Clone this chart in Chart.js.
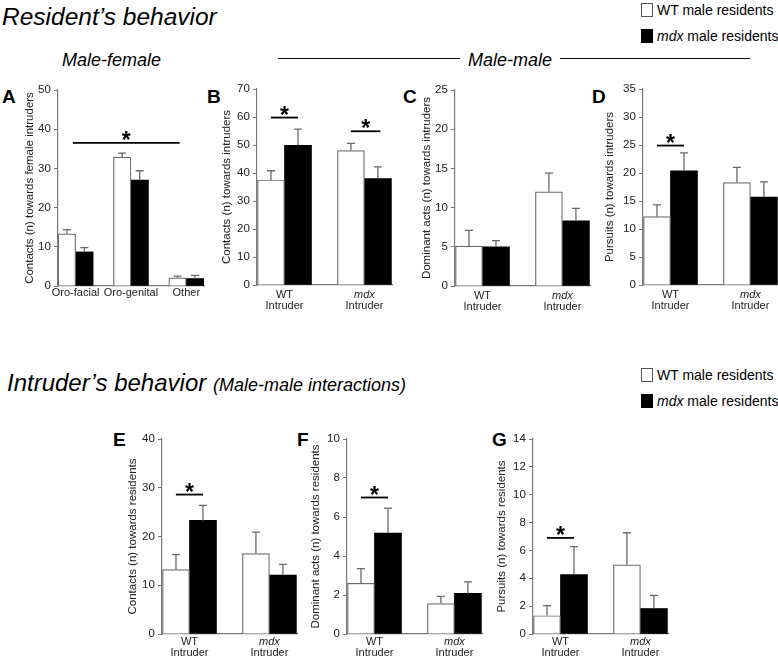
<!DOCTYPE html>
<html>
<head>
<meta charset="utf-8">
<script src="https://cdn.jsdelivr.net/npm/chart.js@4.4.0/dist/chart.umd.min.js"></script>
<style>
  body { margin: 0; background: #fff; overflow: hidden; font-family: "Liberation Sans", Arial, sans-serif; }
  #fig { position: relative; width: 778px; height: 667px; background: #fff; }
  .t { position: absolute; white-space: nowrap; color: #000; line-height: 1; }
  .it { font-style: italic; }
  .letter { position: absolute; font-weight: bold; font-size: 19px; line-height: 1; }
  .box { position: absolute; width: 10px; height: 12px; border: 1px solid #555; background: #fff; }
  .box.dark { background: #000; border-color: #000; }
  .rule { position: absolute; height: 0; border-top: 1px solid #000; }
  canvas { position: absolute; }
</style>
</head>
<body>
<div id="fig">
  <div class="t it" style="left:2px;top:5px;font-size:24.5px">Resident’s behavior</div>
  <div class="box" style="left:641px;top:3px"></div>
  <div class="t" style="left:657px;top:3px;font-size:14px">WT male residents</div>
  <div class="box dark" style="left:641px;top:29px"></div>
  <div class="t" style="left:657px;top:29px;font-size:14px"><i>mdx</i> male residents</div>
  <div class="t it" style="left:62px;top:51px;font-size:18px">Male-female</div>
  <div class="rule" style="left:278px;top:58px;width:182px"></div>
  <div class="t it" style="left:468px;top:51px;font-size:18px">Male-male</div>
  <div class="rule" style="left:560px;top:58px;width:190px"></div>

  <div class="t it" style="left:7px;top:371px;font-size:24px">Intruder’s behavior <span style="font-size:18px">(Male-male interactions)</span></div>
  <div class="box" style="left:641px;top:368px"></div>
  <div class="t" style="left:657px;top:368px;font-size:14px">WT male residents</div>
  <div class="box dark" style="left:641px;top:394px"></div>
  <div class="t" style="left:657px;top:394px;font-size:14px"><i>mdx</i> male residents</div>

  <div class="letter" style="left:2px;top:87px">A</div>
  <div class="letter" style="left:207px;top:87px">B</div>
  <div class="letter" style="left:403px;top:87px">C</div>
  <div class="letter" style="left:592px;top:87px">D</div>
  <div class="letter" style="left:113px;top:430px">E</div>
  <div class="letter" style="left:297px;top:430px">F</div>
  <div class="letter" style="left:492px;top:430px">G</div>
</div>
<script>
// ---- data ----
const catA = ['Oro-facial', 'Oro-genital', 'Other'];
const intruderLabels = [['WT', 'Intruder'], ['mdx', 'Intruder']];

// A: contacts towards female intruders
const wtA = [13.3, 32.9, 2.1];
const wtErrA = [1.1, 1.0, 0.4];
const mdxA = [8.7, 27.0, 1.9];
const mdxErrA = [1.1, 2.4, 0.8];

// B: contacts towards intruders
const wtB = [37.5, 48.0];
const wtErrB = [3.3, 2.6];
const mdxB = [49.9, 38.0];
const mdxErrB = [5.8, 4.2];

// C: dominant acts towards intruders
const wtC = [5.1, 12.0];
const wtErrC = [2.0, 2.4];
const mdxC = [5.0, 8.3];
const mdxErrC = [0.8, 1.6];

// D: pursuits towards intruders
const wtD = [12.2, 18.3];
const wtErrD = [2.1, 2.7];
const mdxD = [20.4, 15.7];
const mdxErrD = [3.2, 2.7];

// E: contacts towards residents
const wtE = [13.2, 16.5];
const wtErrE = [3.1, 4.4];
const mdxE = [23.3, 12.1];
const mdxErrE = [3.1, 2.2];

// F: dominant acts towards residents
const wtF = [2.6, 1.56];
const wtErrF = [0.75, 0.37];
const mdxF = [5.18, 2.08];
const mdxErrF = [1.28, 0.59];

// G: pursuits towards residents
const wtG = [1.31, 4.96];
const wtErrG = [0.73, 2.31];
const mdxG = [4.27, 1.83];
const mdxErrG = [2.0, 0.95];

// significance bars (data units)
const sigA = [{ x1: 0.95, x2: 2.88, y: 36.5 }];
const sigB = [{ x1: 0.83, x2: 1.17, y: 59.8 }, { x1: 1.83, x2: 2.2, y: 54.9 }];
const sigD = [{ x1: 0.83, x2: 1.17, y: 24.9 }];
const sigE = [{ x1: 0.83, x2: 1.17, y: 28.6 }];
const sigF = [{ x1: 0.83, x2: 1.17, y: 7.0 }];
const sigG = [{ x1: 0.83, x2: 1.17, y: 6.9 }];

const FONT = '"Liberation Sans", Arial, sans-serif';
const AXIS = '#7a7a7a';

const errorBars = {
  id: 'errorBars',
  afterDatasetsDraw(chart) {
    const { ctx, scales: { y } } = chart;
    ctx.save();
    ctx.strokeStyle = '#6a6a6a';
    ctx.lineWidth = 1.3;
    chart.data.datasets.forEach((ds, i) => {
      chart.getDatasetMeta(i).data.forEach((bar, j) => {
        const v = ds.data[j].y;
        const top = y.getPixelForValue(v + ds.errors[j]);
        ctx.beginPath();
        ctx.moveTo(bar.x, bar.y);
        ctx.lineTo(bar.x, top);
        ctx.moveTo(bar.x - 4, top);
        ctx.lineTo(bar.x + 4, top);
        ctx.stroke();
      });
    });
    ctx.restore();
  }
};

const sigMarks = {
  id: 'sigMarks',
  afterDraw(chart, args, opts) {
    const { ctx, scales: { x, y } } = chart;
    ctx.save();
    (opts.marks || []).forEach(m => {
      const a = x.getPixelForValue(m.x1), b = x.getPixelForValue(m.x2);
      const py = y.getPixelForValue(m.y);
      ctx.strokeStyle = '#000';
      ctx.lineWidth = 1.8;
      ctx.beginPath();
      ctx.moveTo(a, py);
      ctx.lineTo(b, py);
      ctx.stroke();
      ctx.fillStyle = '#000';
      ctx.font = 'bold 23px ' + FONT;
      ctx.textAlign = 'center';
      ctx.textBaseline = 'alphabetic';
      ctx.fillText('*', (a + b) / 2, py + 5);
    });
    ctx.restore();
  }
};

const groupLabels = {
  id: 'groupLabels',
  afterDraw(chart, args, opts) {
    const { ctx, chartArea, scales: { x } } = chart;
    ctx.save();
    ctx.fillStyle = '#222';
    ctx.textAlign = 'center';
    ctx.textBaseline = 'middle';
    opts.labels.forEach((lab, i) => {
      const px = x.getPixelForValue(i + 1);
      const lines = Array.isArray(lab) ? lab : [lab];
      lines.forEach((ln, k) => {
        ctx.font = (ln === 'mdx' ? 'italic ' : '') + '11px ' + FONT;
        ctx.fillText(ln, px, chartArea.bottom + opts.first + k * 11);
      });
    });
    ctx.restore();
  }
};

function panel(p) {
  const padTop = 12, padBottom = 28, padRight = 8;
  const left = p.titleX - 6.9;
  const yW = p.axisX - left;
  const cv = document.createElement('canvas');
  const w = Math.round(p.axisEnd + padRight - left);
  const h = Math.round(p.zeroY - p.topY + padTop + padBottom);
  cv.width = w; cv.height = h;
  cv.style.left = left + 'px';
  cv.style.top = (p.topY - padTop) + 'px';
  document.getElementById('fig').appendChild(cv);

  const toXY = arr => arr.map((v, i) => ({ x: i + 1, y: v }));
  new Chart(cv.getContext('2d'), {
    type: 'bar',
    data: {
      datasets: [
        { label: 'WT male residents', data: toXY(p.wt), errors: p.wtErr,
          backgroundColor: '#fff', borderColor: '#6a6a6a', borderWidth: 1.2, barThickness: p.bw },
        { label: 'mdx male residents', data: toXY(p.mdx), errors: p.mdxErr,
          backgroundColor: '#000', borderColor: '#000', borderWidth: 0, barThickness: p.bw }
      ]
    },
    options: {
      responsive: false,
      animation: false,
      devicePixelRatio: 1,
      layout: { padding: { left: 0, top: padTop, right: padRight, bottom: padBottom } },
      plugins: {
        legend: { display: false },
        tooltip: { enabled: false },
        sigMarks: { marks: p.sig },
        groupLabels: { labels: p.labels, first: p.labelGap }
      },
      scales: {
        x: {
          type: 'linear', offset: false, min: p.xmin, max: p.xmax,
          grid: { display: false },
          border: { display: true, color: AXIS, width: 1.2 },
          ticks: { display: false }
        },
        y: {
          min: 0, max: p.ymax,
          ticks: { stepSize: p.step, padding: 3, color: '#222', font: { family: FONT, size: 11.5 } },
          grid: { drawOnChartArea: false, drawTicks: true, tickLength: 4, color: AXIS },
          border: { display: true, color: AXIS, width: 1.2 },
          title: { display: true, text: p.title, color: '#222', padding: 0,
                   font: { family: FONT, size: 11.5, lineHeight: 1.2 } },
          afterFit: s => { s.width = yW; }
        }
      }
    },
    plugins: [errorBars, sigMarks, groupLabels]
  });
}

panel({ titleX: 30, axisX: 58, axisEnd: 204.5, topY: 90, zeroY: 294, ymax: 50, step: 10,
  xmin: 0.68, xmax: 3.32, bw: 17.5, wt: wtA, wtErr: wtErrA, mdx: mdxA, mdxErr: mdxErrA,
  sig: sigA, labels: catA, labelGap: 7, title: 'Contacts (n) towards female intruders' });
panel({ titleX: 227, axisX: 257, axisEnd: 392, topY: 89, zeroY: 293, ymax: 70, step: 10,
  xmin: 0.655, xmax: 2.345, bw: 27, wt: wtB, wtErr: wtErrB, mdx: mdxB, mdxErr: mdxErrB,
  sig: sigB, labels: intruderLabels, labelGap: 10, title: 'Contacts (n) towards intruders' });
panel({ titleX: 427, axisX: 455, axisEnd: 590, topY: 90, zeroY: 294, ymax: 25, step: 5,
  xmin: 0.655, xmax: 2.345, bw: 27, wt: wtC, wtErr: wtErrC, mdx: mdxC, mdxErr: mdxErrC,
  sig: [], labels: intruderLabels, labelGap: 10, title: 'Dominant acts (n) towards intruders' });
panel({ titleX: 610, axisX: 643, axisEnd: 778, topY: 89, zeroY: 293, ymax: 35, step: 5,
  xmin: 0.655, xmax: 2.345, bw: 27, wt: wtD, wtErr: wtErrD, mdx: mdxD, mdxErr: mdxErrD,
  sig: sigD, labels: intruderLabels, labelGap: 10, title: 'Pursuits (n) towards intruders' });
panel({ titleX: 133, axisX: 162, axisEnd: 297, topY: 439, zeroY: 642, ymax: 40, step: 10,
  xmin: 0.655, xmax: 2.345, bw: 27, wt: wtE, wtErr: wtErrE, mdx: mdxE, mdxErr: mdxErrE,
  sig: sigE, labels: intruderLabels, labelGap: 8, title: 'Contacts (n) towards residents' });
panel({ titleX: 316, axisX: 347, axisEnd: 482, topY: 439, zeroY: 642, ymax: 10, step: 2,
  xmin: 0.655, xmax: 2.345, bw: 27, wt: wtF, wtErr: wtErrF, mdx: mdxF, mdxErr: mdxErrF,
  sig: sigF, labels: intruderLabels, labelGap: 8, title: 'Dominant acts (n) towards residents' });
panel({ titleX: 502, axisX: 533, axisEnd: 668, topY: 439, zeroY: 642, ymax: 14, step: 2,
  xmin: 0.655, xmax: 2.345, bw: 27, wt: wtG, wtErr: wtErrG, mdx: mdxG, mdxErr: mdxErrG,
  sig: sigG, labels: intruderLabels, labelGap: 8, title: 'Pursuits (n) towards residents' });
</script>
</body>
</html>
